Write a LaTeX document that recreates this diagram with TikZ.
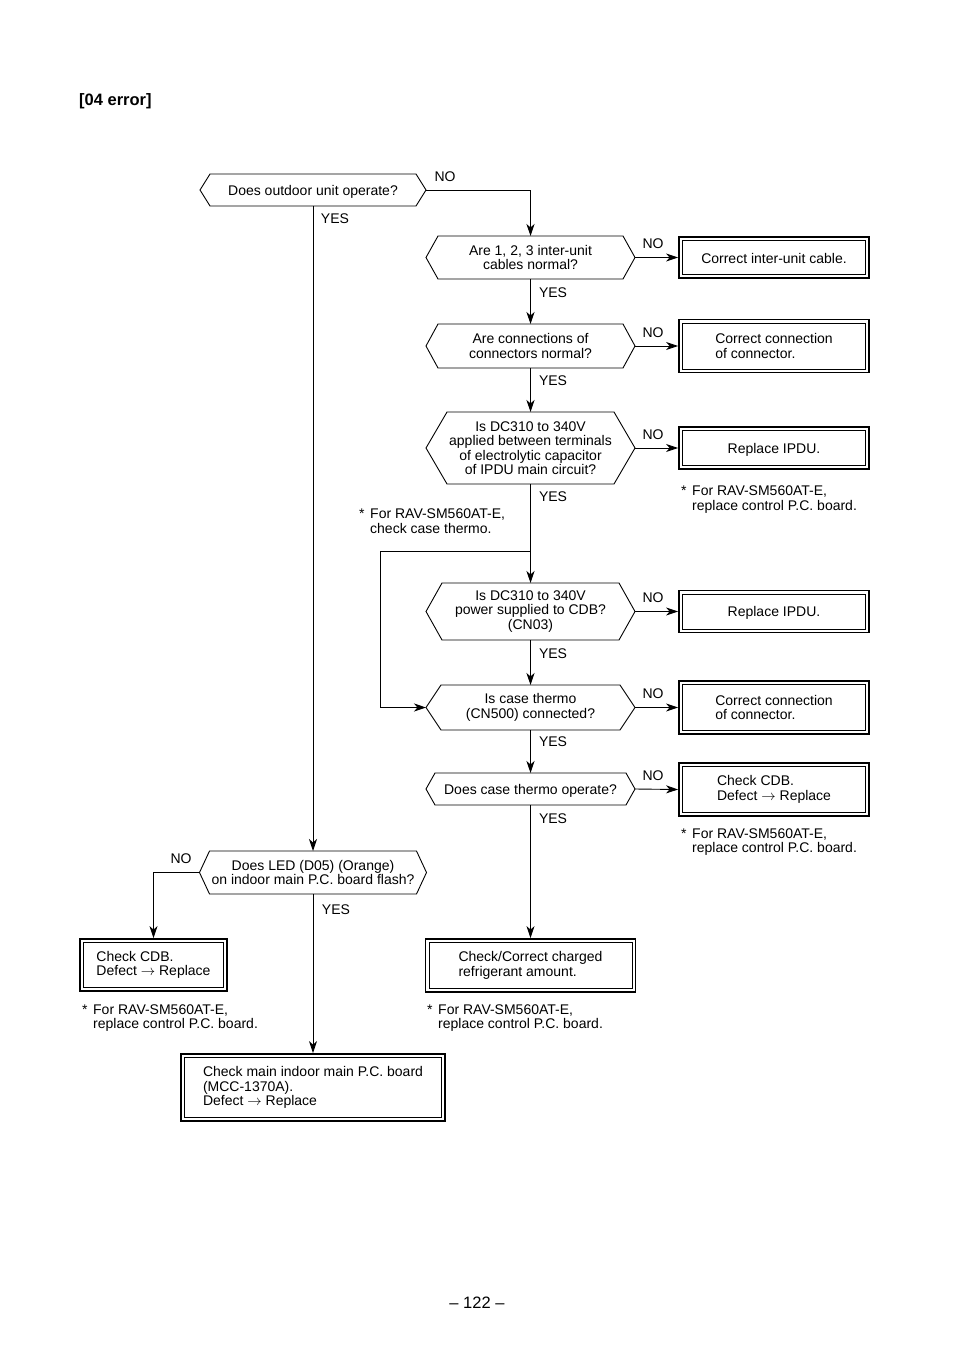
\documentclass[tikz,border=0pt]{standalone}
\usepackage{fontspec}
\setmainfont{Liberation Sans}
\usetikzlibrary{arrows.meta,calc}
\newcommand\hexdraw[2]{\draw[line width=0.9pt] (#1.west) -- ($(#1.north west)+(#2,0)$) -- ($(#1.north east)+(-#2,0)$) -- (#1.east) -- ($(#1.south east)+(-#2,0)$) -- ($(#1.south west)+(#2,0)$) -- cycle;}
\newcommand\dboxdraw[1]{\draw[line width=0.8pt] ($(#1.north west)+(4.5,4.5)$) rectangle ($(#1.south east)+(-4.5,-4.5)$);}
\begin{document}
\begin{tikzpicture}[x=1pt,y=-1pt,
  every node/.style={font=\fontsize{14}{14.5}\selectfont},
  decision/.style={inner sep=0pt, outer sep=0pt, align=center, execute at begin node={\rule{0pt}{13pt}}},
  resultbox/.style={draw, line width=1.8pt, inner sep=0pt, align=left, minimum width=190pt, execute at begin node={\rule{0pt}{13pt}}},
  lbl/.style={inner sep=0pt, yshift=-1pt},
  note/.style={inner sep=0pt, anchor=west, align=left, yshift=-1.5pt},
  conn/.style={line width=0.9pt},
  arr/.style={conn, -{Stealth[length=12pt,width=8pt,inset=3.5pt]}}
]
\useasboundingbox (0,0) rectangle (954,1348);

% title and page number
\node[lbl, anchor=west, font=\fontsize{16.5}{18}\selectfont\bfseries] (title) at (79,100) {[04 error]};
\node[lbl, font=\fontsize{16.5}{18}\selectfont] (page) at (477,1302) {-- 122 --};

% decisions
\node[decision, minimum width=226pt, minimum height=32pt] (d1) at (313,190) {Does outdoor unit operate?};
\node[decision, minimum width=209pt, minimum height=43pt] (d2) at (530.5,257.5) {Are 1, 2, 3 inter-unit\\cables normal?};
\node[decision, minimum width=209pt, minimum height=44pt] (d3) at (530.5,346) {Are connections of\\connectors normal?};
\node[decision, minimum width=209pt, minimum height=72pt] (d4) at (530.5,448) {Is DC310 to 340V\\applied between terminals\\of electrolytic capacitor\\of IPDU main circuit?};
\node[decision, minimum width=209pt, minimum height=57pt] (d5) at (530.5,611.5) {Is DC310 to 340V\\power supplied to CDB?\\(CN03)};
\node[decision, minimum width=209pt, minimum height=45pt] (d6) at (530.5,707.5) {Is case thermo\\(CN500) connected?};
\node[decision, minimum width=209pt, minimum height=32pt] (d7) at (530.5,789) {Does case thermo operate?};
\node[decision, minimum width=227pt, minimum height=43pt] (d8) at (313,872.5) {Does LED (D05) (Orange)\\on indoor main P.C. board flash?};
\hexdraw{d1}{10}
\hexdraw{d2}{12}
\hexdraw{d3}{12}
\hexdraw{d4}{21}
\hexdraw{d5}{16}
\hexdraw{d6}{15}
\hexdraw{d7}{9}
\hexdraw{d8}{10}

% result boxes
\node[resultbox, minimum height=41pt, align=center] (r1) at (774,257.5) {Correct inter-unit cable.};
\node[resultbox, minimum height=53pt] (r2) at (774,346) {Correct connection\\of connector.};
\node[resultbox, minimum height=42pt, align=center] (r3) at (774,448) {Replace IPDU.};
\node[resultbox, minimum height=42pt, align=center] (r4) at (774,611.5) {Replace IPDU.};
\node[resultbox, minimum height=53pt] (r5) at (774,707.5) {Correct connection\\of connector.};
\node[resultbox, minimum height=53pt] (r6) at (774,789.5) {Check CDB.\\Defect $\rightarrow$ Replace};
\node[resultbox, minimum width=147pt, minimum height=52pt] (r7) at (153.5,965) {Check CDB.\\Defect $\rightarrow$ Replace};
\node[resultbox, minimum width=210pt, minimum height=53pt] (r8) at (530.5,965.5) {Check/Correct charged\\refrigerant amount.};
\node[resultbox, minimum width=264pt, minimum height=67pt] (r9) at (313,1087.5) {Check main indoor main P.C. board\\(MCC-1370A).\\Defect $\rightarrow$ Replace};
\foreach \b in {r1,r2,r3,r4,r5,r6,r7,r8,r9} {\dboxdraw{\b}}

% connectors
\draw[arr] (d1.east) -| (d2.north);
\draw[arr] (d1.south) -- (d8.north);
\draw[arr] (d2.east) -- (r1.west);
\draw[arr] (d2.south) -- (d3.north);
\draw[arr] (d3.east) -- (r2.west);
\draw[arr] (d3.south) -- (d4.north);
\draw[arr] (d4.east) -- (r3.west);
\draw[arr] (d4.south) -- (d5.north);
\coordinate (j1) at (530.5,551);
\coordinate (j2) at (380,551);
\draw[arr] (j1) -- (j2) |- (d6.west);
\draw[arr] (d5.east) -- (r4.west);
\draw[arr] (d5.south) -- (d6.north);
\draw[arr] (d6.east) -- (r5.west);
\draw[arr] (d6.south) -- (d7.north);
\draw[arr] (d7.east) -- (r6.west);
\draw[arr] (d7.south) -- (r8.north);
\draw[arr] (d8.west) -| (r7.north);
\draw[arr] (d8.south) -- (r9.north);

% labels
\node[lbl] (n1) at (445,176) {NO};
\node[lbl] (y1) at (335,218) {YES};
\node[lbl] (n2) at (653,243) {NO};
\node[lbl] (y2) at (553,292) {YES};
\node[lbl] (n3) at (653,332) {NO};
\node[lbl] (y3) at (553,380) {YES};
\node[lbl] (n4) at (653,434) {NO};
\node[lbl] (y4) at (553,496) {YES};
\node[lbl] (n5) at (653,597) {NO};
\node[lbl] (y5) at (553,653) {YES};
\node[lbl] (n6) at (653,693) {NO};
\node[lbl] (y6) at (553,741) {YES};
\node[lbl] (n7) at (653,775) {NO};
\node[lbl] (y7) at (553,818) {YES};
\node[lbl] (n8) at (181,858) {NO};
\node[lbl] (y8) at (336,909) {YES};

% notes
\node[note] (nt1) at (359,519.5) {\makebox[11pt][l]{*}For RAV-SM560AT-E,\\\hspace*{11pt}check case thermo.};
\node[note] (nt2) at (681,498) {\makebox[11pt][l]{*}For RAV-SM560AT-E,\\\hspace*{11pt}replace control P.C. board.};
\node[note] (nt3) at (681,840.5) {\makebox[11pt][l]{*}For RAV-SM560AT-E,\\\hspace*{11pt}replace control P.C. board.};
\node[note] (nt4) at (82,1016.5) {\makebox[11pt][l]{*}For RAV-SM560AT-E,\\\hspace*{11pt}replace control P.C. board.};
\node[note] (nt5) at (427,1016.5) {\makebox[11pt][l]{*}For RAV-SM560AT-E,\\\hspace*{11pt}replace control P.C. board.};
\end{tikzpicture}
\end{document}
